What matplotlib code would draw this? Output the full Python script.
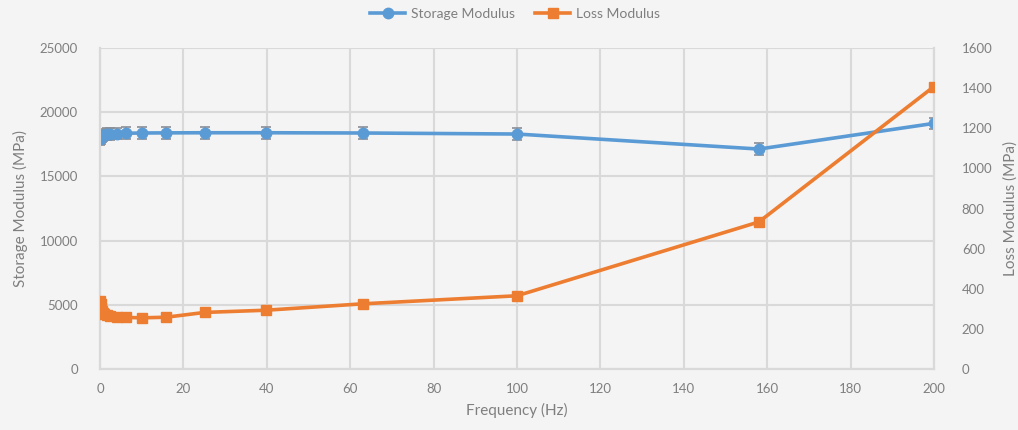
import matplotlib
matplotlib.use("Agg")
import matplotlib.pyplot as plt
from matplotlib.lines import Line2D

# Frequency sweep (Hz)
frequency = [0.1, 0.158, 0.251, 0.398, 0.631, 1.0, 1.58, 2.51, 3.98, 6.31,
             10.0, 15.8, 25.1, 39.8, 63.1, 100.0, 158.0, 200.0]
# Storage modulus (MPa), left axis
storage = [17900, 18000, 18100, 18150, 18200, 18250, 18300, 18320, 18340, 18360,
           18380, 18390, 18400, 18400, 18380, 18300, 17130, 19130]
storage_err = [450] * len(frequency)
# Loss modulus (MPa), right axis
loss = [340, 325, 305, 290, 280, 272, 268, 263, 260, 257,
        255, 258, 282, 293, 325, 365, 733, 1408]

x_ticks = list(range(0, 201, 20))
left_ticks = list(range(0, 25001, 5000))
right_ticks = list(range(0, 1601, 200))

BLUE = "#5B9BD5"
ORANGE = "#ED7D31"
GRID = "#d9d9d9"
TEXT = "#7f7f7f"
BG = "#f4f4f4"

plt.rcParams["font.family"] = ["Lato", "DejaVu Sans"]

fig = plt.figure(figsize=(10.18, 4.30), dpi=100, facecolor=BG)
ax = fig.add_axes([100 / 1018, 1 - 369 / 430, 834 / 1018, 321 / 430])
ax.set_facecolor("none")

ax.errorbar(frequency, storage, yerr=storage_err, color=BLUE, lw=2.6,
            marker="o", ms=7.5, ecolor="#8a8f96", elinewidth=1.2, capsize=3.5,
            capthick=1.2, zorder=3)
ax.set_xlim(0, 200)
ax.set_ylim(0, 25000)
ax.set_xticks(x_ticks)
ax.set_yticks(left_ticks)
ax.grid(True, color=GRID, lw=1.5)
ax.set_axisbelow(True)

ax2 = ax.twinx()
ax2.plot(frequency, loss, color=ORANGE, lw=2.6, marker="s", ms=7, zorder=4)
ax2.set_ylim(0, 1600)
ax2.set_yticks(right_ticks)

for a in (ax, ax2):
    a.spines["top"].set_visible(False)
    for side in ("left", "right", "bottom"):
        a.spines[side].set_color(GRID)
        a.spines[side].set_linewidth(1.5)
    a.tick_params(length=0, colors=TEXT, labelsize=9.5)

ax.tick_params(axis="x", pad=10)
ax.tick_params(axis="y", pad=16)
ax2.tick_params(axis="y", pad=20)

ax.set_xlabel("Frequency (Hz)", color=TEXT, fontsize=11, labelpad=6)
ax.set_ylabel("Storage Modulus (MPa)", color=TEXT, fontsize=11)
ax2.set_ylabel("Loss Modulus (MPa)", color=TEXT, fontsize=11, rotation=90)
ax.yaxis.set_label_coords((28 - 100) / 834, 0.5)
ax2.yaxis.set_label_coords((1003 - 100) / 834, 0.5)

handles = [
    Line2D([], [], color=BLUE, lw=2.6, marker="o", ms=7.5),
    Line2D([], [], color=ORANGE, lw=2.6, marker="s", ms=7),
]
fig.legend(handles, ["Storage Modulus", "Loss Modulus"], loc="center",
           bbox_to_anchor=(515 / 1018, 1 - 14 / 430), ncol=2, frameon=False,
           fontsize=10, labelcolor=TEXT, handlelength=2.5, columnspacing=1.5,
           handletextpad=0.4)

fig.savefig("out.png", dpi=100, facecolor=BG)
